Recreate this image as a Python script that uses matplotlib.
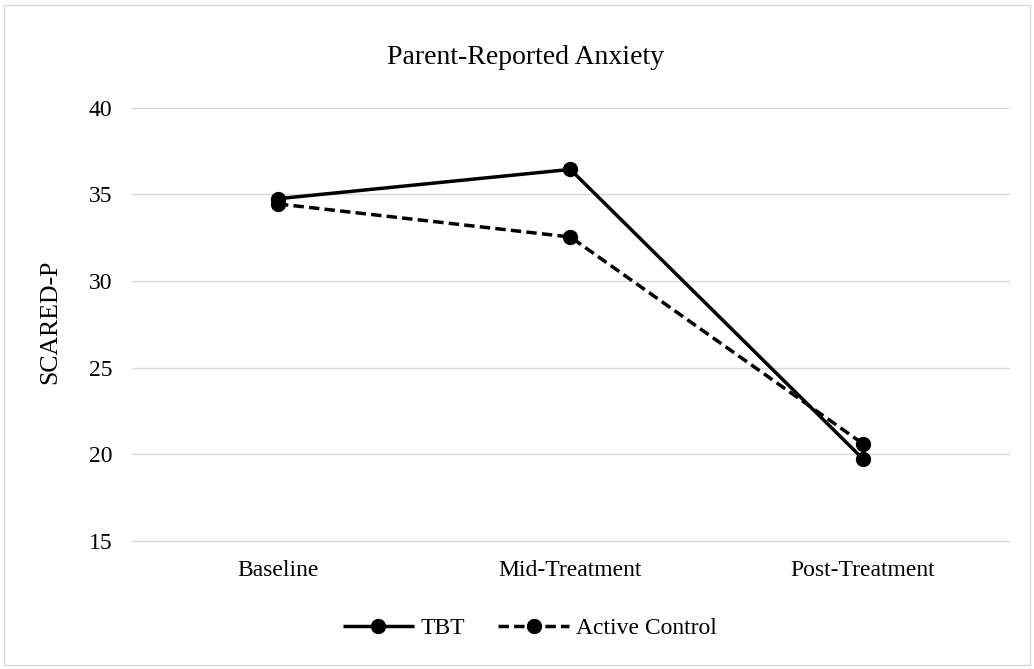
import matplotlib
matplotlib.use("Agg")
import matplotlib.pyplot as plt
from matplotlib.patches import Rectangle

# data
categories = ["Baseline", "Mid-Treatment", "Post-Treatment"]
tbt = [34.75, 36.44, 19.75]
active_control = [34.45, 32.54, 20.62]
yticks = [15, 20, 25, 30, 35, 40]

plt.rcParams['font.family'] = ['Liberation Serif', 'DejaVu Serif']

fig = plt.figure(figsize=(10.34, 6.69), dpi=100)
ax = fig.add_axes([0.1274, 0.1913, 0.8484, 0.6477])

x = range(len(categories))
ax.plot(x, tbt, color='black', lw=2.5, marker='o', markersize=10,
        solid_capstyle='butt', label='TBT')
ax.plot(x, active_control, color='black', lw=2.5, marker='o', markersize=10,
        linestyle=(0, (3, 1.5)), label='Active Control')

ax.set_xlim(-0.5, 2.5)
ax.set_ylim(15, 40)
ax.set_yticks(yticks)
ax.set_xticks(list(x))
ax.set_xticklabels(categories)
ax.tick_params(axis='both', length=0, labelsize=17)
ax.tick_params(axis='y', pad=14)
ax.tick_params(axis='x', pad=14)
ax.grid(axis='y', color='#d9d9d9', lw=1.0)
ax.set_axisbelow(True)
for gl in ax.get_ygridlines():
    gl.set_clip_on(False)
for s in ax.spines.values():
    s.set_visible(False)

fig.text(0.508, 1 - 57 / 669, 'Parent-Reported Anxiety', ha='center', va='center', fontsize=20)
fig.text(50 / 1034, 1 - 322 / 669, 'SCARED-P', rotation=90, ha='center', va='center', fontsize=18.5)

fig.legend(loc='center', bbox_to_anchor=(530 / 1034, 1 - 628 / 669), ncol=2, frameon=False,
           fontsize=17, handlelength=3.0, handletextpad=0.3, columnspacing=1.4)

# outer chart border
fig.patches.append(Rectangle((4 / 1034, 4 / 669), 1 - 8 / 1034, 1 - 9 / 669, transform=fig.transFigure,
                             fill=False, edgecolor='#d9d9d9', lw=1.0))

plt.savefig("out.png", dpi=100)
